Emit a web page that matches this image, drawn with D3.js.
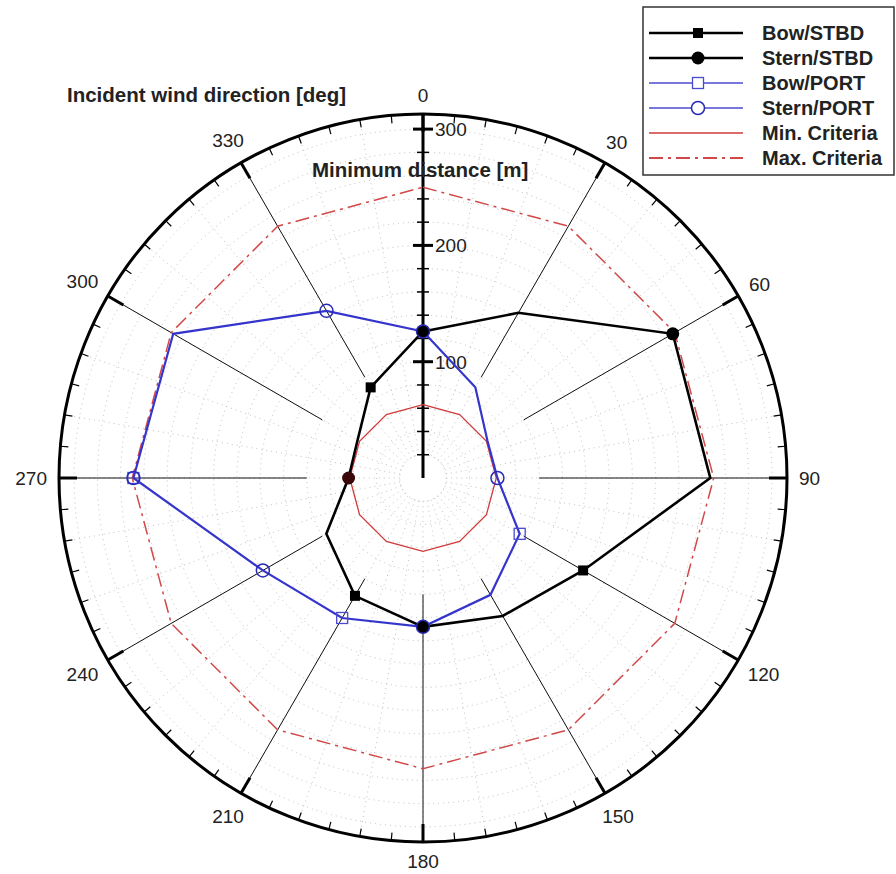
<!DOCTYPE html>
<html lang="en">
<head>
    <meta charset="UTF-8" />
    <title>Minimum distance polar</title>
    <script src="https://d3js.org/d3.v7.min.js"></script>
    <style>
        body { margin: 0; background: #fff; }
        text { font-family: "Liberation Sans", Arial, sans-serif; fill: #222; }
    </style>
</head>
<body>
    <div class="canvas"></div>

    <script>
        /* data */
        const angles = [0, 30, 60, 90, 120, 150, 180, 210, 240, 270, 300, 330];   // incident wind direction [deg]
        const stbdDist = [126, 164, 248, 247, 159, 137, 128, 117, 96, 64, 65, 90];  // STBD side [m]
        const portDist = [126, 90, 64, 64, 96, 116, 128, 139, 159, 249, 248, 166];  // PORT side [m]
        const minCriteria = [63, 63, 63, 63, 63, 63, 63, 63, 63, 63, 63, 63];
        const maxCriteria = [250, 250, 250, 250, 250, 250, 250, 250, 250, 250, 250, 250];
        // directions where the bow / stern symbol is shown
        const bowStbdAt = [120, 210, 330];
        const sternStbdAt = [0, 60, 180, 270];
        const bowPortAt = [120, 210, 270];
        const sternPortAt = [0, 90, 180, 240, 270, 330];
        const distTicks = [100, 200, 300];
        const distMinor = [20, 40, 60, 80, 120, 140, 160, 180, 220, 240, 260, 280];

        const 넓이 = 896, 높이 = 874;
        const cx = 423, cy = 478, R = 364;

        const svg = d3.select(".canvas").append("svg")
            .attr("width", 넓이).attr("height", 높이);
        const g = svg.append("g").attr("transform", `translate(${cx},${cy})`);

        const r = d3.scaleLinear().domain([0, 313]).range([0, R]);
        const rad = (deg) => deg * Math.PI / 180;

        /* faint dotted grid */
        const grid = g.append("g").attr("stroke", "#b0b0b0").attr("stroke-width", 0.8)
            .attr("stroke-dasharray", "1,4").attr("fill", "none");
        grid.selectAll("circle").data(d3.range(20, 313, 20)).enter()
            .append("circle").attr("r", (d) => r(d));
        grid.selectAll("line").data(d3.range(0, 360, 10)).enter()
            .append("line")
            .attr("x1", (d) => d3.pointRadial(rad(d), r(20))[0])
            .attr("y1", (d) => d3.pointRadial(rad(d), r(20))[1])
            .attr("x2", (d) => d3.pointRadial(rad(d), R)[0])
            .attr("y2", (d) => d3.pointRadial(rad(d), R)[1]);

        /* spokes every 30 deg, from 100 m outwards */
        g.append("g").selectAll("line").data(angles.filter((a) => a !== 0)).enter()
            .append("line")
            .attr("stroke", "#111").attr("stroke-width", 1)
            .attr("x1", (d) => d3.pointRadial(rad(d), r(100))[0])
            .attr("y1", (d) => d3.pointRadial(rad(d), r(100))[1])
            .attr("x2", (d) => d3.pointRadial(rad(d), R)[0])
            .attr("y2", (d) => d3.pointRadial(rad(d), R)[1]);

        /* outer circle and its ticks */
        g.append("circle").attr("r", R).attr("fill", "none").attr("stroke", "#000").attr("stroke-width", 3);
        g.append("g").selectAll("line").data(d3.range(0, 360, 5)).enter()
            .append("line")
            .attr("stroke", "#000")
            .attr("stroke-width", (d) => d % 30 === 0 ? 3 : 1.2)
            .attr("x1", (d) => d3.pointRadial(rad(d), R)[0])
            .attr("y1", (d) => d3.pointRadial(rad(d), R)[1])
            .attr("x2", (d) => d3.pointRadial(rad(d), R - (d % 30 === 0 ? 18 : 8))[0])
            .attr("y2", (d) => d3.pointRadial(rad(d), R - (d % 30 === 0 ? 18 : 8))[1]);

        /* direction labels */
        const labelR = (d) => R + 12 + String(d).length * 5.3 * Math.abs(Math.sin(rad(d))) + 7 * Math.abs(Math.cos(rad(d)));
        g.append("g").selectAll("text").data(angles).enter()
            .append("text")
            .attr("font-size", 19)
            .attr("text-anchor", "middle")
            .attr("dy", "0.36em")
            .attr("x", (d) => d3.pointRadial(rad(d), labelR(d))[0])
            .attr("y", (d) => d3.pointRadial(rad(d), labelR(d))[1])
            .text((d) => d);

        /* radial axis along 0 deg */
        const axisG = g.append("g");
        axisG.append("line").attr("x1", 0).attr("y1", 0).attr("x2", 0).attr("y2", -R)
            .attr("stroke", "#000").attr("stroke-width", 3);
        axisG.selectAll(".minor").data(distMinor).enter()
            .append("line").attr("class", "minor")
            .attr("x1", -6).attr("x2", 6)
            .attr("y1", (d) => -r(d)).attr("y2", (d) => -r(d))
            .attr("stroke", "#000").attr("stroke-width", 1.5);
        axisG.selectAll(".major").data(distTicks).enter()
            .append("line").attr("class", "major")
            .attr("x1", -10).attr("x2", 10)
            .attr("y1", (d) => -r(d)).attr("y2", (d) => -r(d))
            .attr("stroke", "#000").attr("stroke-width", 3);
        axisG.selectAll("text").data(distTicks).enter()
            .append("text")
            .attr("font-size", 19)
            .attr("x", 12).attr("y", (d) => -r(d)).attr("dy", "0.36em")
            .text((d) => d);

        /* criteria */
        const polar = d3.lineRadial()
            .angle((d) => rad(d[0]))
            .radius((d) => r(d[1]))
            .curve(d3.curveLinearClosed);

        g.append("path").attr("d", polar(d3.zip(angles, minCriteria)))
            .attr("fill", "none").attr("stroke", "#d03a3a").attr("stroke-width", 1.3);
        g.append("path").attr("d", polar(d3.zip(angles, maxCriteria)))
            .attr("fill", "none").attr("stroke", "#d04848").attr("stroke-width", 1.5)
            .attr("stroke-dasharray", "14,5,3,5");

        /* series lines */
        g.append("path").attr("d", polar(d3.zip(angles, stbdDist)))
            .attr("fill", "none").attr("stroke", "#000").attr("stroke-width", 2.6);
        g.append("path").attr("d", polar(d3.zip(angles, portDist)))
            .attr("fill", "none").attr("stroke", "#3535cc").attr("stroke-width", 2.2);

        const valueAt = (list, a) => list[angles.indexOf(a)];
        const pos = (list, a) => d3.pointRadial(rad(a), r(valueAt(list, a)));

        /* markers */
        g.append("g").selectAll("rect").data(bowStbdAt).enter()
            .append("rect")
            .attr("x", (d) => pos(stbdDist, d)[0] - 5).attr("y", (d) => pos(stbdDist, d)[1] - 5)
            .attr("width", 10).attr("height", 10).attr("fill", "#000");
        g.append("g").selectAll("circle").data(sternStbdAt).enter()
            .append("circle")
            .attr("cx", (d) => pos(stbdDist, d)[0]).attr("cy", (d) => pos(stbdDist, d)[1])
            .attr("r", 6.5).attr("fill", (d) => d === 270 ? "#3a0808" : "#000");
        g.append("g").selectAll("rect").data(bowPortAt).enter()
            .append("rect")
            .attr("x", (d) => pos(portDist, d)[0] - 5.5).attr("y", (d) => pos(portDist, d)[1] - 5.5)
            .attr("width", 11).attr("height", 11)
            .attr("fill", "none").attr("stroke", "#4a4ad0").attr("stroke-width", 1.3);
        g.append("g").selectAll("circle").data(sternPortAt).enter()
            .append("circle")
            .attr("cx", (d) => pos(portDist, d)[0]).attr("cy", (d) => pos(portDist, d)[1])
            .attr("r", 6.5).attr("fill", "none").attr("stroke", "#2a2ab8").attr("stroke-width", 1.5);

        /* axis titles */
        svg.append("text").attr("x", 67).attr("y", 102)
            .attr("font-size", 20.5).attr("font-weight", "bold")
            .text("Incident wind direction [deg]");
        svg.append("text").attr("x", 312).attr("y", 177)
            .attr("font-size", 20.5).attr("font-weight", "bold")
            .text("Minimum distance [m]");

        /* legend */
        const legendItems = ["Bow/STBD", "Stern/STBD", "Bow/PORT", "Stern/PORT", "Min. Criteria", "Max. Criteria"];
        const legend = svg.append("g");
        legend.append("rect").attr("x", 643).attr("y", 7).attr("width", 251).attr("height", 168)
            .attr("fill", "#fff").attr("stroke", "#333").attr("stroke-width", 1.5);
        const row = legend.selectAll("g").data(legendItems).enter()
            .append("g").attr("transform", (d, i) => `translate(0, ${33 + i * 25})`);
        const lineStyle = [
            { c: "#000", w: 2.6, dash: null },
            { c: "#000", w: 2.6, dash: null },
            { c: "#4a4ad0", w: 1.3, dash: null },
            { c: "#4a4ad0", w: 1.3, dash: null },
            { c: "#d03a3a", w: 1.5, dash: null },
            { c: "#d04848", w: 1.8, dash: "14,5,3,5" },
        ];
        row.append("line").attr("x1", 649).attr("x2", 743).attr("y1", 0).attr("y2", 0)
            .attr("stroke", (d, i) => lineStyle[i].c)
            .attr("stroke-width", (d, i) => lineStyle[i].w)
            .attr("stroke-dasharray", (d, i) => lineStyle[i].dash);
        row.filter((d, i) => i === 0).append("rect")
            .attr("x", 693).attr("y", -5).attr("width", 10).attr("height", 10).attr("fill", "#000");
        row.filter((d, i) => i === 1).append("circle")
            .attr("cx", 698).attr("r", 6.5).attr("fill", "#000");
        row.filter((d, i) => i === 2).append("rect")
            .attr("x", 692.5).attr("y", -5.5).attr("width", 11).attr("height", 11)
            .attr("fill", "#fff").attr("stroke", "#4a4ad0").attr("stroke-width", 1.3);
        row.filter((d, i) => i === 3).append("circle")
            .attr("cx", 698).attr("r", 6.5).attr("fill", "#fff").attr("stroke", "#2a2ab8").attr("stroke-width", 1.5);
        row.append("text").attr("x", 762).attr("dy", "0.36em")
            .attr("font-size", 20).attr("font-weight", "bold")
            .text((d) => d);
    </script>
</body>
</html>
